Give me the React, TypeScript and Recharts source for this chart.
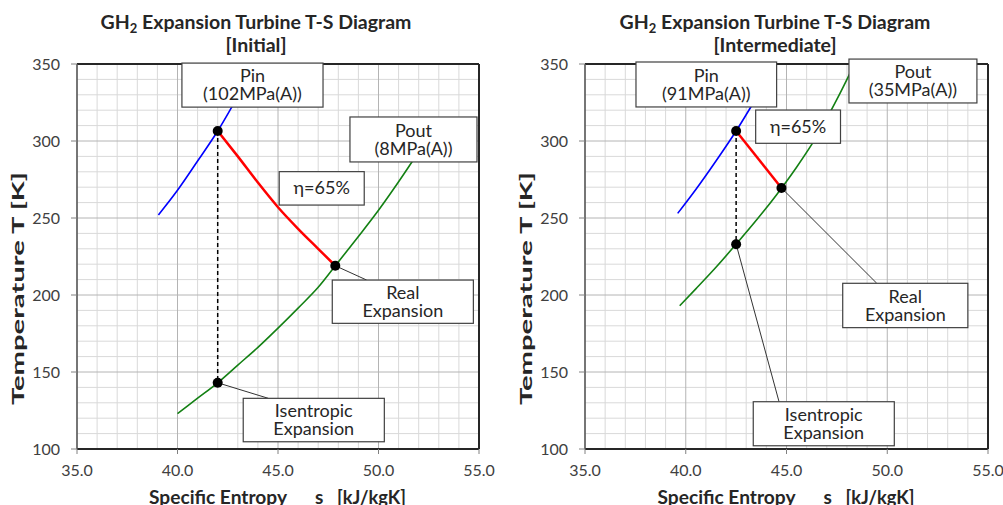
import React from 'react';
import {
  ComposedChart, Line, Scatter, XAxis, YAxis, CartesianGrid, ReferenceArea, ReferenceLine, Label
} from 'recharts';

const FONT = 'Lato, "Open Sans", sans-serif';

// axis ticks
const S_DOMAIN = [35, 55];
const T_DOMAIN = [100, 350];
const S_TICKS = [35, 40, 45, 50, 55];
const T_TICKS = [100, 150, 200, 250, 300, 350];
const S_MINOR = [36, 37, 38, 39, 41, 42, 43, 44, 46, 47, 48, 49, 51, 52, 53, 54];
const T_MINOR = [110, 120, 130, 140, 160, 170, 180, 190, 210, 220, 230, 240, 260, 270, 280, 290, 310, 320, 330, 340];

// ---- [Initial] ----
const INIT_PIN_S = [39.05, 40.0, 41.0, 42.0, 43.0];
const INIT_PIN_T = [252, 268, 287, 306.5, 329];
const INIT_POUT_S = [40.0, 41.0, 42.0, 43.0, 44.0, 45.0, 46.0, 47.0, 48.0, 49.0, 50.0, 51.0, 52.0, 52.6];
const INIT_POUT_T = [123, 133, 143, 154.5, 166, 178.5, 191.5, 205, 221.5, 238, 255, 273.5, 293, 305];
const INIT_REAL_S = [42.0, 43.0, 44.0, 45.0, 46.0, 47.0, 47.85];
const INIT_REAL_T = [306.5, 290, 273, 257, 243, 230, 219];
const INIT_ISEN_S = [42.0, 42.0];
const INIT_ISEN_T = [306.5, 143];
const INIT_DOT_S = [42.0, 47.85, 42.0];
const INIT_DOT_T = [306.5, 219, 143];

// ---- [Intermediate] ----
const MID_PIN_S = [39.6, 40.5, 41.5, 42.5, 43.5];
const MID_PIN_T = [253, 268.5, 287, 306.5, 328];
const MID_POUT_S = [39.7, 40.5, 41.5, 42.5, 43.5, 44.5, 45.5, 46.5, 47.5, 48.3];
const MID_POUT_T = [193, 204, 218, 233, 248.5, 265, 283, 303, 327, 348];
const MID_REAL_S = [42.5, 44.75];
const MID_REAL_T = [306.5, 269.5];
const MID_ISEN_S = [42.5, 42.5];
const MID_ISEN_T = [306.5, 233];
const MID_DOT_S = [42.5, 44.75, 42.5];
const MID_DOT_T = [306.5, 269.5, 233];

const pts = (s: number[], t: number[]) => s.map((v, i) => ({ s: v, T: t[i] }));

interface Box { s1: number; s2: number; t1: number; t2: number; text: string[] }

// annotation callouts (data coordinates)
const INIT_BOXES: Box[] = [
  { s1: 40.22, s2: 47.24, t1: 322, t2: 350.6, text: ['Pin', '(102MPa(A))'] },
  { s1: 45.06, s2: 49.29, t1: 258.4, t2: 280.1, text: ['η=65%'] },
  { s1: 48.58, s2: 54.9, t1: 286.4, t2: 315.6, text: ['Pout', '(8MPa(A))'] },
  { s1: 47.7, s2: 54.72, t1: 181.6, t2: 209.7, text: ['Real', 'Expansion'] },
  { s1: 43.27, s2: 50.29, t1: 104.7, t2: 132.9, text: ['Isentropic', 'Expansion'] },
];
const INIT_LEADERS = [
  pts([47.85, 49.41], [219, 209.7]),
  pts([42.0, 44.52], [143, 132.9]),
];

const MID_BOXES: Box[] = [
  { s1: 37.53, s2: 44.51, t1: 322.1, t2: 351.3, text: ['Pin', '(91MPa(A))'] },
  { s1: 43.47, s2: 47.68, t1: 298.5, t2: 320.1, text: ['η=65%'] },
  { s1: 48.1, s2: 54.45, t1: 324.7, t2: 353.2, text: ['Pout', '(35MPa(A))'] },
  { s1: 47.79, s2: 54.0, t1: 178.8, t2: 207.6, text: ['Real', 'Expansion'] },
  { s1: 43.35, s2: 50.35, t1: 102.1, t2: 130.7, text: ['Isentropic', 'Expansion'] },
];
const MID_LEADERS = [
  pts([44.75, 49.48], [269.5, 207.6]),
  pts([42.5, 44.63], [233, 130.7]),
];

const BoxShape = (p: any) => {
  const { x, y, width, height, text } = p;
  const cx = x + width / 2;
  const cy = y + height / 2;
  const lh = 18;
  return (
    <g>
      <rect x={x} y={y} width={width} height={height} fill="#fff" stroke="#404040" strokeWidth={1.2} />
      <text textAnchor="middle" fontFamily={FONT} fontSize={18} fill="#262626">
        {text.map((l: string, i: number) => (
          <tspan key={i} x={cx} y={cy + (i - (text.length - 1) / 2) * lh} dy="0.34em">{l}</tspan>
        ))}
      </text>
    </g>
  );
};

const YLabel = (props: any) => {
  const vb = props.viewBox;
  const x = vb.x + props.dx0;
  const y = vb.y + vb.height / 2 + 32;
  return (
    <text x={x} y={y} transform={`rotate(-90 ${x} ${y})`} textAnchor="middle" dominantBaseline="central"
      fontFamily={FONT} fontWeight={700} fontSize={17} fill="#262626"
      textLength={233} lengthAdjust="spacingAndGlyphs">
      Temperature  T  [K]
    </text>
  );
};

const XLabel = (props: any) => {
  const vb = props.viewBox;
  const cx = vb.x + vb.width / 2;
  const y = vb.y + 54.5;
  const common = { fontFamily: FONT, fontWeight: 700, fontSize: 19, fill: '#262626' };
  return (
    <g>
      <text x={cx - 129} y={y} {...common} textLength={138} lengthAdjust="spacingAndGlyphs">Specific Entropy</text>
      <text x={cx + 37} y={y} {...common}>s</text>
      <text x={cx + 59} y={y} {...common} textLength={69} lengthAdjust="spacingAndGlyphs">[kJ/kgK]</text>
    </g>
  );
};

// minor grid positions from the plot offset and the fixed domains
const minorX = ({ offset }: any) =>
  S_MINOR.map((v) => offset.left + ((v - S_DOMAIN[0]) / (S_DOMAIN[1] - S_DOMAIN[0])) * offset.width);
const minorY = ({ offset }: any) =>
  T_MINOR.map((v) => offset.top + ((T_DOMAIN[1] - v) / (T_DOMAIN[1] - T_DOMAIN[0])) * offset.height);

interface ChartProps {
  width: number;
  right: number;
  yWidth: number;
  yLabelX: number;
  pin: { s: number; T: number }[];
  pout: { s: number; T: number }[];
  real: { s: number; T: number }[];
  isen: { s: number; T: number }[];
  dots: { s: number; T: number }[];
  leaders: { s: number; T: number }[][];
  boxes: Box[];
}

function TsChart(c: ChartProps) {
  const tick = { fontFamily: FONT, fontSize: 16, fill: '#404040' };
  return (
    <ComposedChart width={c.width} height={505} margin={{ top: 64, right: c.right, bottom: 0, left: 0 }}>
      <CartesianGrid stroke="#d9d9d9" verticalCoordinatesGenerator={minorX} horizontalCoordinatesGenerator={minorY} />
      <CartesianGrid stroke="#b4b4b4" />
      <XAxis type="number" dataKey="s" domain={S_DOMAIN} ticks={S_TICKS} height={56}
        tickFormatter={(v) => Number(v).toFixed(1)} tick={tick} tickSize={5} tickMargin={11}
        axisLine={{ stroke: '#262626', strokeWidth: 2 }} tickLine={{ stroke: '#808080' }}
        allowDataOverflow>
        <Label content={<XLabel />} />
      </XAxis>
      <YAxis type="number" dataKey="T" domain={T_DOMAIN} ticks={T_TICKS} width={c.yWidth}
        tick={tick} tickSize={6} tickMargin={11}
        axisLine={{ stroke: '#555', strokeWidth: 1.5 }} tickLine={{ stroke: '#808080' }}
        allowDataOverflow>
        <Label content={<YLabel dx0={c.yLabelX} />} />
      </YAxis>
      <ReferenceLine y={350} stroke="#262626" strokeWidth={2} />
      <ReferenceLine x={55} stroke="#262626" strokeWidth={2} />

      <Line data={c.pin} dataKey="T" type="monotone" stroke="#0000ff" strokeWidth={1.6} dot={false} isAnimationActive={false} />
      <Line data={c.pout} dataKey="T" type="monotone" stroke="#138013" strokeWidth={1.6} dot={false} isAnimationActive={false} />
      <Line data={c.real} dataKey="T" type="monotone" stroke="#ff0000" strokeWidth={2.5} dot={false} isAnimationActive={false} />
      <Line data={c.isen} dataKey="T" type="linear" stroke="#000" strokeWidth={1.5} strokeDasharray="4 3" dot={false} isAnimationActive={false} />
      {c.leaders.map((l, i) => (
        <Line key={i} data={l} dataKey="T" type="linear" stroke="#333" strokeWidth={1} dot={false} isAnimationActive={false} />
      ))}
      {c.boxes.map((b, i) => (
        <ReferenceArea key={i} x1={b.s1} x2={b.s2} y1={b.t1} y2={b.t2} ifOverflow="visible" zIndex={1500}
          shape={(p: any) => <BoxShape {...p} text={b.text} />} />
      ))}
      <Scatter data={c.dots} dataKey="T" isAnimationActive={false}
        shape={(p: any) => <circle cx={p.cx} cy={p.cy} r={5} fill="#000" />} />
    </ComposedChart>
  );
}

const Title = ({ x, sub }: { x: number; sub: string }) => (
  <g fontFamily={FONT} fontWeight={700} fill="#262626" textAnchor="middle">
    <text x={x} y={29} fontSize={19.5}>
      GH<tspan fontSize={13} dy={4}>2</tspan><tspan dy={-4}> Expansion Turbine T-S Diagram</tspan>
    </text>
    <text x={x} y={52} fontSize={19.5}>{sub}</text>
  </g>
);

export default function App() {
  return (
    <div style={{ position: 'absolute', left: 0, top: 0, width: 1003, height: 505, background: '#fff' }}>
      <div style={{ position: 'absolute', left: 0, top: 0 }}>
        <TsChart width={501} right={22} yWidth={77} yLabelX={17}
          pin={pts(INIT_PIN_S, INIT_PIN_T)} pout={pts(INIT_POUT_S, INIT_POUT_T)}
          real={pts(INIT_REAL_S, INIT_REAL_T)} isen={pts(INIT_ISEN_S, INIT_ISEN_T)}
          dots={pts(INIT_DOT_S, INIT_DOT_T)} leaders={INIT_LEADERS} boxes={INIT_BOXES} />
      </div>
      <div style={{ position: 'absolute', left: 501, top: 0 }}>
        <TsChart width={502} right={15} yWidth={84} yLabelX={24}
          pin={pts(MID_PIN_S, MID_PIN_T)} pout={pts(MID_POUT_S, MID_POUT_T)}
          real={pts(MID_REAL_S, MID_REAL_T)} isen={pts(MID_ISEN_S, MID_ISEN_T)}
          dots={pts(MID_DOT_S, MID_DOT_T)} leaders={MID_LEADERS} boxes={MID_BOXES} />
      </div>
      <svg width={1003} height={505} style={{ position: 'absolute', left: 0, top: 0, pointerEvents: 'none' }}>
        <Title x={256} sub="[Initial]" />
        <Title x={775} sub="[Intermediate]" />
      </svg>
    </div>
  );
}
